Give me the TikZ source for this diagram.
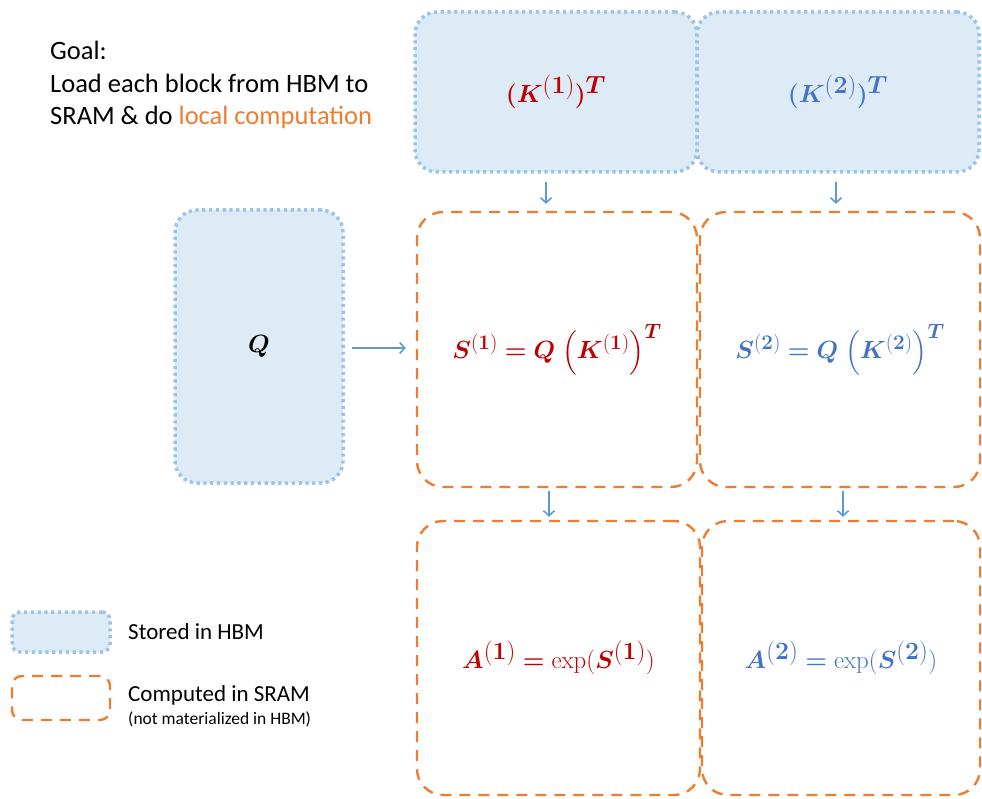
\documentclass[tikz,border=0pt]{standalone}
\usepackage{amsmath}
\usepackage{bm}
\usepackage[no-math]{fontspec}
\setmainfont{Carlito}
\usetikzlibrary{arrows.meta}
\definecolor{hbmfill}{HTML}{DDEBF7}
\definecolor{hbmline}{HTML}{9DC3E6}
\definecolor{sramline}{HTML}{ED7D31}
\definecolor{arrowc}{HTML}{5B9BD5}
\definecolor{redc}{HTML}{C00000}
\definecolor{bluec}{HTML}{4472C4}
\tikzset{
  hbm/.style={draw=hbmline, fill=hbmfill, line width=3.5pt, dash pattern=on 3.2pt off 3.6pt, rounded corners=22pt, rectangle},
  sram/.style={draw=sramline, line width=2.4pt, dash pattern=on 11pt off 8pt, rounded corners=26pt, rectangle},
  flow/.style={draw=arrowc, line width=1.6pt, -{Straight Barb[length=5pt,width=11pt,line width=1.6pt]}},
  eq/.style={font=\fontsize{30}{34}\selectfont},
  eqbig/.style={font=\fontsize{33}{38}\selectfont},
}
\begin{document}
\begin{tikzpicture}[x=1pt,y=-1pt]
\useasboundingbox (0,0) rectangle (982,799);
% HBM boxes
\node[hbm, minimum width=282pt, minimum height=160pt] (K1) at (556,92) {};
\node[hbm, minimum width=282pt, minimum height=160pt] (K2) at (838,92) {};
\node[hbm, minimum width=168pt, minimum height=273pt] (Q) at (259,346.5) {};
\node[eqbig, text=redc] (K1t) at (K1.center) {$\bm{(}\bm{K}^{(\mathbf{1})}\bm{)}^{\bm{T}}$};
\node[eqbig, text=bluec] (K2t) at (K2.center) {$\bm{(}\bm{K}^{(\mathbf{2})}\bm{)}^{\bm{T}}$};
\node[eq] (Qt) at (Q.center) {$\bm{Q}$};
% SRAM boxes
\node[sram, minimum width=280pt, minimum height=275pt] (S1) at (557,349.5) {};
\node[sram, minimum width=280pt, minimum height=275pt] (S2) at (840,349.5) {};
\node[sram, minimum width=283pt, minimum height=274pt] (A1) at (558.5,658) {};
\node[sram, minimum width=278pt, minimum height=274pt] (A2) at (841,658) {};
\node[eq, text=redc] (S1t) at (S1.center) {$\bm{S}^{(\mathbf{1})} \bm{=} \bm{Q}\;\Bigl(\bm{K}^{(\mathbf{1})}\Bigr)^{\bm{T}}$};
\node[eq, text=bluec] (S2t) at (S2.center) {$\bm{S}^{(\mathbf{2})} \bm{=} \bm{Q}\;\Bigl(\bm{K}^{(\mathbf{2})}\Bigr)^{\bm{T}}$};
\node[eqbig, text=redc] (A1t) at (A1.center) {$\bm{A}^{(\mathbf{1})} \bm{=} \exp(\bm{S}^{(\mathbf{1})})$};
\node[eqbig, text=bluec] (A2t) at (A2.center) {$\bm{A}^{(\mathbf{2})} \bm{=} \exp(\bm{S}^{(\mathbf{2})})$};
% arrows
\draw[flow, shorten <=8pt, shorten >=7pt] ([xshift=-10pt]K1.south) -- ([xshift=-10pt]K1.south |- S1.north);
\draw[flow, shorten <=8pt, shorten >=7pt] ([xshift=-2pt]K2.south) -- ([xshift=-2pt]K2.south |- S2.north);
\draw[flow, shorten <=3pt, shorten >=3pt] ([xshift=-8pt]S1.south) -- ([xshift=-8pt]S1.south |- A1.north);
\draw[flow, shorten <=3pt, shorten >=3pt] ([xshift=3pt]S2.south) -- ([xshift=3pt]S2.south |- A2.north);
\draw[flow, shorten <=7pt, shorten >=10pt] ([yshift=-1.5pt]Q.east) -- ([yshift=-1.5pt]Q.east -| S1.west);
% goal text
\node[anchor=north west, align=left, inner sep=0pt, font=\fontsize{26.5}{32.5}\selectfont] (goal) at (50,41)
  {Goal:\\Load each block from HBM to\\SRAM \& do \textcolor{sramline}{local computation}};
% legend
\node[hbm, rounded corners=8pt, minimum width=98pt, minimum height=40pt] (L1) at (61,632) {};
\node[sram, rounded corners=10pt, minimum width=98pt, minimum height=44pt] (L2) at (61,698) {};
\node[anchor=west, inner sep=0pt, font=\fontsize{23}{26}\selectfont] (L1t) at (128,632) {Stored in HBM};
\node[anchor=west, inner sep=0pt, font=\fontsize{23}{26}\selectfont] (L2t) at (128,695) {Computed in SRAM};
\node[anchor=west, inner sep=0pt, font=\fontsize{17.5}{19}\selectfont] (L2s) at (128,719) {(not materialized in HBM)};
\end{tikzpicture}
\end{document}
